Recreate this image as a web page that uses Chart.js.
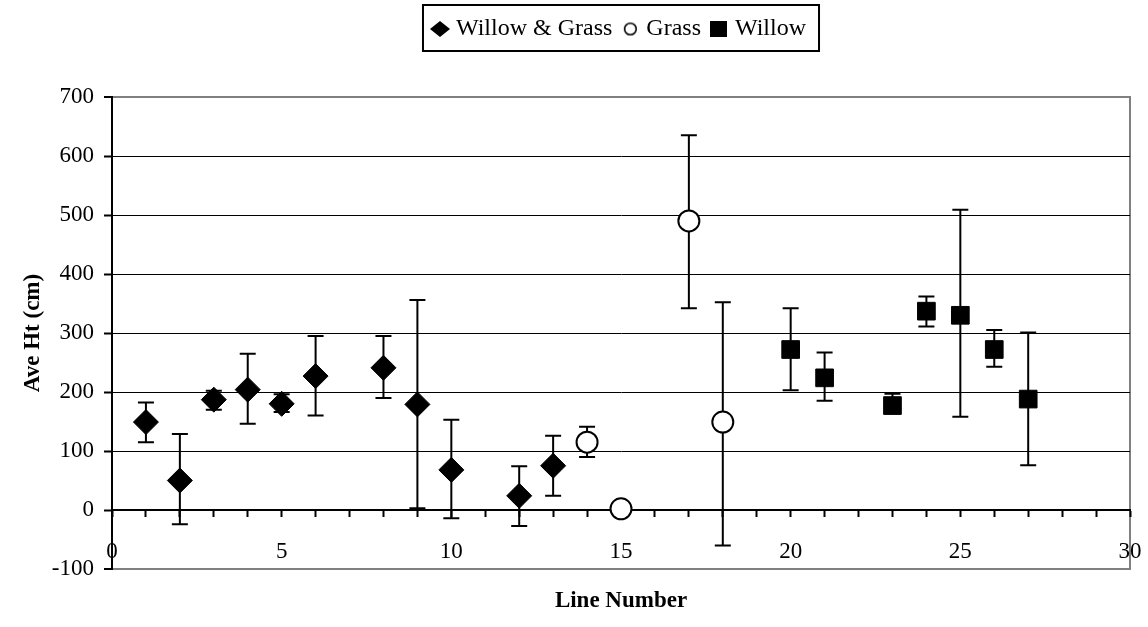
<!DOCTYPE html>
<html>
<head>
<meta charset="utf-8">
<script src="https://cdn.jsdelivr.net/npm/chart.js@4.4.0/dist/chart.umd.min.js"></script>
<style>
    html, body { margin: 0; padding: 0; background: #fff; }
    #wrap { width: 1148px; height: 627px; }
</style>
</head>
<body>
<div id="wrap"><canvas id="graphic"></canvas></div>
<script>
// Willow & Grass lines
let wgLine = [1, 2, 3, 4, 5, 6, 8, 9, 10, 12, 13]
let wgHt = [149, 50, 187, 204, 180, 227, 241, 179, 68, 24, 75]
let wgHigh = [182, 129, 202, 265, 196, 295, 295, 356, 153, 74, 126]
let wgLow = [115, -24, 170, 146, 166, 160, 190, 3, -14, -27, 24]

// Grass lines
let grassLine = [14, 15, 17, 18]
let grassHt = [115, 2, 490, 149]
let grassHigh = [141, 2, 635, 352]
let grassLow = [90, 2, 342, -60]

// Willow lines
let willowLine = [20, 21, 23, 24, 25, 26, 27]
let willowHt = [272, 224, 177, 337, 330, 272, 188]
let willowHigh = [342, 267, 197, 362, 509, 305, 301]
let willowLow = [203, 185, 165, 311, 158, 243, 76]

let xTicks = [0, 5, 10, 15, 20, 25, 30]
let yTicks = [-100, 0, 100, 200, 300, 400, 500, 600, 700]

const fontFamily = "'Liberation Serif', 'Times New Roman', serif"
const tickFont = { family: fontFamily, size: 23 }
const legendFont = { family: fontFamily, size: 24 }
const titleFont = { family: fontFamily, size: 23, weight: "bold" }

function points(xs, ys, hi, lo) {
    let out = []
    for (let i = 0; i < xs.length; i++) {
        out.push({ x: xs[i], y: ys[i], hi: hi[i], lo: lo[i] })
    }
    return out
}

// small legend symbols, the legend draws them as images
function makeMarker(w, h, draw) {
    let c = document.createElement("canvas")
    c.width = w
    c.height = h
    draw(c.getContext("2d"), w, h)
    return c
}
const legendMarkers = [
    makeMarker(20, 16, (g, w, h) => {
        g.fillStyle = "#000"
        g.beginPath()
        g.moveTo(0, h / 2)
        g.lineTo(w / 2, 0)
        g.lineTo(w, h / 2)
        g.lineTo(w / 2, h)
        g.closePath()
        g.fill()
    }),
    makeMarker(15, 15, (g, w, h) => {
        g.fillStyle = "#fff"
        g.strokeStyle = "#000"
        g.lineWidth = 1.6
        g.beginPath()
        g.arc(w / 2, h / 2, 5.8, 0, Math.PI * 2)
        g.fill()
        g.stroke()
    }),
    makeMarker(17, 16, (g, w, h) => {
        g.fillStyle = "#000"
        g.fillRect(0, 0, w, h)
    }),
]

// error bars go under the markers
const errorBars = {
    id: "errorBars",
    beforeDatasetsDraw(chart) {
        const ctx = chart.ctx
        const xs = chart.scales.x
        const ys = chart.scales.y
        ctx.save()
        ctx.strokeStyle = "#000"
        ctx.lineWidth = 2
        chart.data.datasets.forEach((ds) => {
            ds.data.forEach((p) => {
                if (p.hi === p.lo) return
                let px = xs.getPixelForValue(p.x)
                let top = ys.getPixelForValue(p.hi)
                let bot = ys.getPixelForValue(p.lo)
                ctx.beginPath()
                ctx.moveTo(px, top)
                ctx.lineTo(px, bot)
                ctx.moveTo(px - 8, top)
                ctx.lineTo(px + 8, top)
                ctx.moveTo(px - 8, bot)
                ctx.lineTo(px + 8, bot)
                ctx.stroke()
            })
        })
        ctx.restore()
    },
}

// gray frame of the plot area and box round the legend
const frames = {
    id: "frames",
    beforeDraw(chart) {
        const a = chart.chartArea
        const ctx = chart.ctx
        ctx.save()
        ctx.strokeStyle = "#808080"
        ctx.lineWidth = 2
        ctx.strokeRect(a.left, a.top, a.right - a.left, a.bottom - a.top)
        ctx.restore()
    },
    afterDraw(chart) {
        const boxes = chart.legend.legendHitBoxes
        if (!boxes || !boxes.length) return
        let left = Math.min(...boxes.map((b) => b.left))
        let right = Math.max(...boxes.map((b) => b.left + b.width))
        let top = boxes[0].top
        let bottom = top + boxes[0].height
        const ctx = chart.ctx
        ctx.save()
        ctx.strokeStyle = "#000"
        ctx.lineWidth = 2
        ctx.strokeRect(left - 13, top - 12, right - left + 26, bottom - top + 22)
        ctx.restore()
    },
}

Chart.defaults.color = "#000"

const chartID = document.getElementById("graphic").getContext("2d")
let graphic = new Chart(chartID, {
    type: "scatter",
    data: {
        datasets: [
            {
                label: "Willow & Grass",
                data: points(wgLine, wgHt, wgHigh, wgLow),
                pointStyle: "rectRot",
                pointRadius: 12.5,
                backgroundColor: "#000",
                borderColor: "#000",
                borderWidth: 1,
            },
            {
                label: "Grass",
                data: points(grassLine, grassHt, grassHigh, grassLow),
                pointStyle: "circle",
                pointRadius: 10.5,
                backgroundColor: "#fff",
                borderColor: "#000",
                borderWidth: 2,
            },
            {
                label: "Willow",
                data: points(willowLine, willowHt, willowHigh, willowLow),
                pointStyle: "rect",
                pointRadius: 12.5,
                backgroundColor: "#000",
                borderColor: "#000",
                borderWidth: 1,
            },
        ],
    },
    options: {
        responsive: true,
        maintainAspectRatio: false,
        animation: false,
        clip: false,
        layout: { padding: { left: 0, right: 18, top: 3, bottom: 0 } },
        plugins: {
            tooltip: { enabled: false },
            legend: {
                position: "top",
                fullSize: false,
                labels: {
                    usePointStyle: true,
                    boxWidth: 8,
                    boxHeight: 12,
                    padding: 14,
                    font: legendFont,
                    color: "#000",
                    generateLabels: (chart) => {
                        let items = Chart.defaults.plugins.legend.labels.generateLabels(chart)
                        items.forEach((it, i) => { it.pointStyle = legendMarkers[i] })
                        return items
                    },
                },
            },
            subtitle: {
                display: true,
                text: "",
                weight: 500,
                font: { size: 10 },
                padding: { top: 0, bottom: 34 },
            },
        },
        scales: {
            x: {
                type: "linear",
                min: 0,
                max: 30,
                position: { y: 0 },
                afterFit: (s) => {
                    s.height = 0
                    s.paddingLeft = 0
                    s.paddingRight = 0
                },
                ticks: {
                    stepSize: 1,
                    autoSkip: false,
                    maxRotation: 0,
                    padding: 22,
                    font: tickFont,
                    color: "#000",
                    callback: (v) => (xTicks.includes(v) ? v : ""),
                },
                grid: { drawOnChartArea: false, drawTicks: true, tickLength: 6, tickColor: "#000", tickWidth: 2 },
                border: { color: "#000", width: 2 },
            },
            xt: {
                type: "linear",
                position: "bottom",
                min: 0,
                max: 30,
                afterFit: (s) => {
                    s.height = 58
                    s.paddingLeft = 0
                    s.paddingRight = 0
                },
                ticks: { display: false },
                grid: { display: false },
                border: { display: false },
                title: { display: true, text: "Line Number", font: titleFont, color: "#000", padding: { top: 0, bottom: 12 } },
            },
            y: {
                type: "linear",
                min: -100,
                max: 700,
                afterFit: (s) => { s.width = 112 },
                afterBuildTicks: (s) => { s.ticks = yTicks.map((v) => ({ value: v })) },
                ticks: { font: tickFont, color: "#000", padding: 10 },
                grid: {
                    color: (c) => (c.tick && (c.tick.value === 700 || c.tick.value === -100) ? "#808080" : "#000"),
                    lineWidth: (c) => (c.tick && (c.tick.value === 700 || c.tick.value === -100) ? 2 : 1),
                    tickLength: 8,
                    tickColor: "#000",
                    tickWidth: 2,
                },
                border: { color: "#000", width: 2 },
                title: { display: true, text: "Ave Ht (cm)", font: titleFont, color: "#000", padding: { top: 19, bottom: 0 } },
            },
        },
    },
    plugins: [errorBars, frames],
})
</script>
</body>
</html>
